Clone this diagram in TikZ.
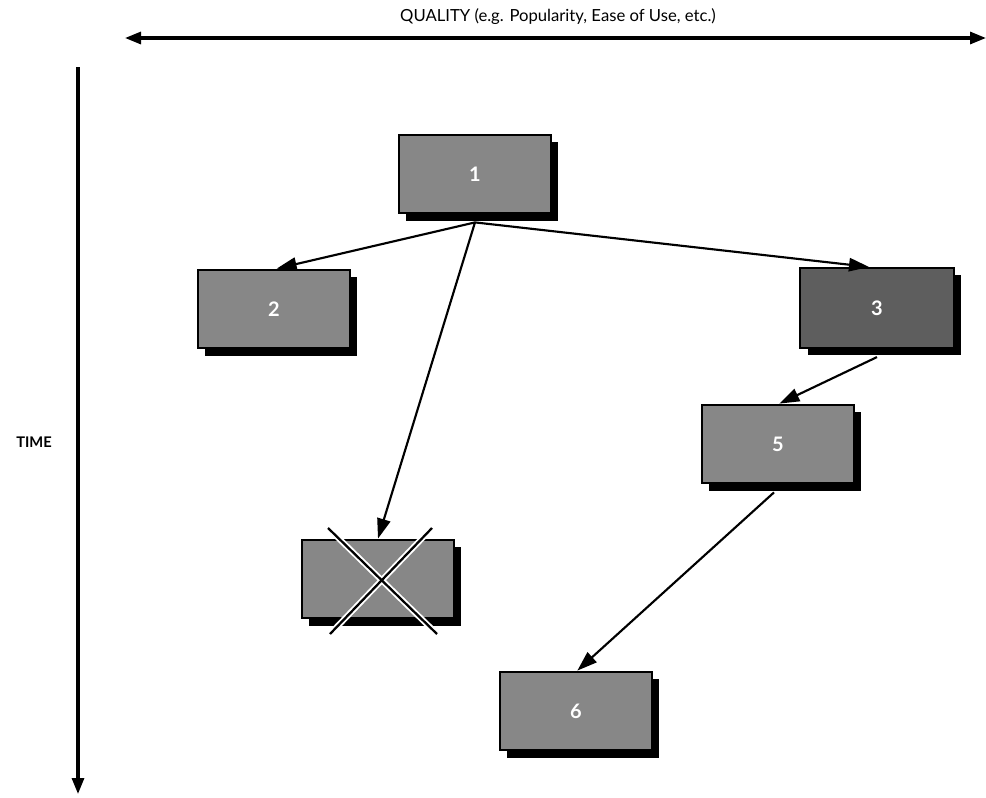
\documentclass[tikz,border=0pt]{standalone}
\usepackage{fontspec}
\setmainfont{Lato}
\usetikzlibrary{arrows.meta,shadows,calc}
\begin{document}
\begin{tikzpicture}[x=0.75pt,y=-0.75pt,
  box/.style={draw=black,line width=1.6pt,fill=black!47,minimum width=114pt,minimum height=59pt,inner sep=0pt,
    text=white,font=\bfseries\fontsize{15}{17}\selectfont,
    drop shadow={shadow xshift=5.5pt,shadow yshift=-5.5pt,fill=black,opacity=1}},
  darkbox/.style={box,fill=black!63},
  conn/.style={line width=1.6pt,-{Triangle[length=15pt,width=10pt]}},
  axis/.style={line width=2.3pt,-{Triangle[length=12pt,width=9pt]}},
  crossline/.style={line width=1.7pt,black},
  crosshalo/.style={line width=4.5pt,white}
]
\useasboundingbox (0,0) rectangle (986,797);
% axes
\coordinate (qL) at (125,38);
\coordinate (qR) at (986,38);
\coordinate (tT) at (78,67);
\coordinate (tB) at (78,794);
\draw[line width=2.3pt,{Triangle[length=12pt,width=9pt]}-{Triangle[length=12pt,width=9pt]}] (qL) -- (qR);
\draw[axis] (tT) -- (tB);
\node[font=\fontsize{12.5}{14}\selectfont] (qlab) at (558,17) {QUALITY (e.g. Popularity, Ease of Use, etc.)};
\node[font=\bfseries\fontsize{11}{13}\selectfont] (tlab) at (34,442) {TIME};
% boxes
\node[box] (n1) at (475,174) {1};
\node[box] (n2) at (274,309) {2};
\node[darkbox,minimum width=115pt,minimum height=60pt] (n3) at (877,308) {3};
\node[box] (n5) at (778,444) {5};
\node[box] (n4) at (378,579) {};
\node[box] (n6) at (576,711) {6};
% cross on box 4
\coordinate (xa) at ($(n4.center)+(-50,-51)$);
\coordinate (xb) at ($(n4.center)+(59,55)$);
\coordinate (xc) at ($(n4.center)+(54,-51)$);
\coordinate (xd) at ($(n4.center)+(-48,55)$);
\draw[crosshalo] (xa) -- (xb);
\draw[crosshalo] (xc) -- (xd);
\draw[crossline] (xa) -- (xb);
\draw[crossline] (xc) -- (xd);
% connectors
\coordinate (s1) at ([yshift=-6pt]n1.south);
\coordinate (s3) at ([yshift=-6pt]n3.south);
\coordinate (s5) at ([yshift=-6pt,xshift=-3pt]n5.south);
\draw[conn] (s1) -- ([xshift=2pt]n2.north);
\draw[conn] (s1) -- ([xshift=-6pt]n3.north);
\draw[conn] (s1) -- (n4.north);
\draw[conn] (s3) -- ([xshift=1pt]n5.north);
\draw[conn] (s5) -- ([xshift=1pt]n6.north);
\end{tikzpicture}
\end{document}
